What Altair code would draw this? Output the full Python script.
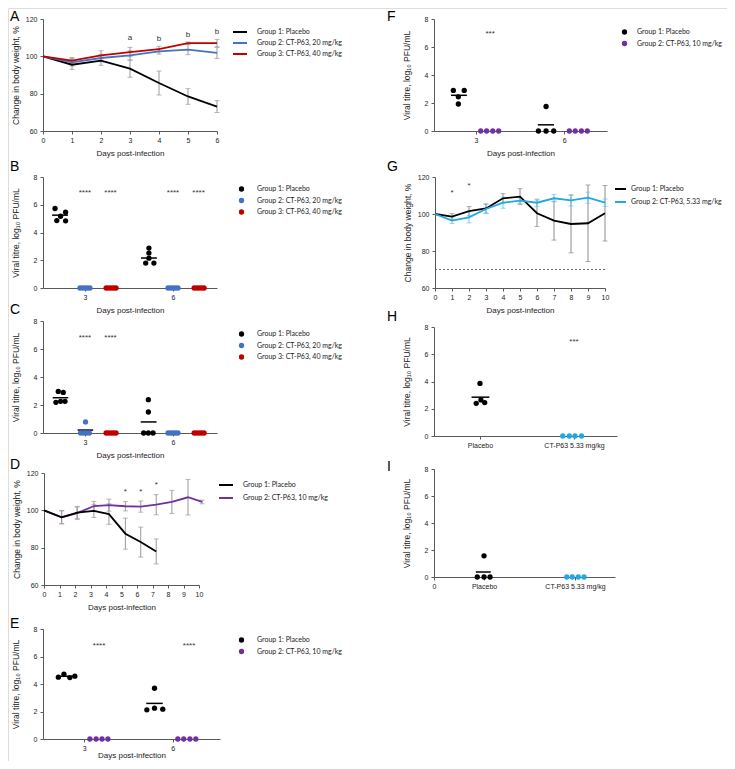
import altair as alt
import pandas as pd

FONT = "Liberation Sans"
LFONT = "Lato"
AX = "#595959"
TXT = "#222222"
W, H = 719, 753

BLACK, BLUE, RED, PURPLE, CYAN = "#000000", "#4472C4", "#C00000", "#7030A0", "#22A7E0"
GREY_ERR, CYAN_ERR = "#999999", "#6cc6ec"

# ---------------- data ----------------
# A: body weight, 3 groups
A_names = ["Group 1: Placebo", "Group 2: CT-P63, 20 mg/kg", "Group 3: CT-P63, 40 mg/kg"]
A_days = [0, 1, 2, 3, 4, 5, 6]
A_g1 = [100, 95.5, 97.7, 93.4, 85.7, 78.5, 73.1]
A_g1_err = [0, 2.5, 2.5, 4.6, 6.4, 4.2, 3.2]
A_g2 = [100, 96.8, 99.1, 100.5, 102.7, 103.6, 101.8]
A_g2_err = [0, 2.0, 2.0, 2.5, 1.5, 2.7, 3.0]
A_g3 = [100, 97.7, 100.5, 102.3, 103.9, 107.1, 107.1]
A_g3_err = [0, 1.7, 2.5, 2.5, 1.5, 0.6, 2.0]
A_sig_x = [3, 4, 5, 6]
A_sig_y = [109.7, 109.3, 111.4, 112.9]
A_sig_t = ["a", "b", "b", "b"]

# B: viral titre, 3 groups
B_day = [3] * 15 + [6] * 15
B_grp = ([0] * 5 + [1] * 5 + [2] * 5) * 2
B_off = [-1.02, -0.96, -0.83, -0.66, -0.66, -0.17, -0.085, 0, 0.085, 0.17, 0.72, 0.805, 0.89, 0.975, 1.06,
         -0.82, -0.82, -0.82, -0.93, -0.65, -0.17, -0.085, 0, 0.085, 0.17, 0.72, 0.805, 0.89, 0.975, 1.06]
B_val = [5.73, 4.86, 5.17, 5.46, 4.84, 0, 0, 0, 0, 0, 0, 0, 0, 0, 0,
         2.88, 2.52, 2.15, 1.80, 1.80, 0, 0, 0, 0, 0, 0, 0, 0, 0, 0]
B_mean_day = [3, 6]
B_mean_x1 = [-1.12, -1.09]
B_mean_x2 = [-0.58, -0.55]
B_mean = [5.25, 2.16]
B_sig_x = [3, 3.87, 6, 6.87]
B_sig_y = [6.85, 6.85, 6.85, 6.85]

# C
C_off = [-0.91, -0.74, -0.99, -0.83, -0.68, 0.02, -0.15, -0.05, 0.05, 0.15, 0.72, 0.805, 0.89, 0.975, 1.06,
         -0.84, -0.84, -1.0, -0.84, -0.68, -0.17, -0.085, 0, 0.085, 0.17, 0.72, 0.805, 0.89, 0.975, 1.06]
C_val = [2.97, 2.90, 2.19, 2.26, 2.26, 0.79, 0, 0, 0, 0, 0, 0, 0, 0, 0,
         2.38, 1.50, 0, 0, 0, 0, 0, 0, 0, 0, 0, 0, 0, 0, 0]
C_mean_day = [3, 3, 6]
C_mean_x1 = [-1.1, -0.25, -1.1]
C_mean_x2 = [-0.57, 0.28, -0.56]
C_mean = [2.52, 0.21, 0.79]
C_sig_x = [3, 3.87]
C_sig_y = [6.8, 6.8]

# D: body weight, 10 mg/kg
D_names = ["Group 1: Placebo", "Group 2: CT-P63, 10 mg/kg"]
D_x_pl = [0, 1.14, 2.14, 3.22, 4.19, 5.25, 6.24, 7.24]
D_pl = [100, 96.3, 98.8, 99.7, 98.0, 87.5, 83.0, 78.0]
D_pl_err = [0, 3.5, 3.3, 3.5, 5.5, 8.3, 8.0, 6.7]
D_x_ct = [0, 1.14, 2.14, 3.22, 4.19, 5.25, 6.24, 7.24, 8.25, 9.29, 10.2]
D_ct = [100, 96.3, 98.5, 102.3, 102.8, 102.2, 102.0, 103.0, 104.5, 107.0, 104.5]
D_ct_err = [0, 3.5, 3.3, 2.5, 3.2, 2.5, 3.0, 5.4, 6.2, 9.5, 1.0]
D_sig_x = [5.25, 6.24, 7.24]
D_sig_y = [110.0, 110.0, 113.5]

# E: viral titre, 10 mg/kg
E_names = ["Group 1: Placebo", "Group 2: CT-P63, 10 mg/kg"]
E_day = [3] * 8 + [6] * 8
E_grp = ([0] * 4 + [1] * 4) * 2
E_off = [-0.88, -0.69, -0.49, -0.32, 0.19, 0.40, 0.60, 0.80,
         -0.88, -0.62, -0.62, -0.34, 0.17, 0.37, 0.58, 0.78]
E_val = [4.50, 4.71, 4.47, 4.57, 0, 0, 0, 0,
         2.12, 3.69, 2.24, 2.17, 0, 0, 0, 0]
E_mean_day = [3, 6]
E_mean_x1 = [-0.9, -0.9]
E_mean_x2 = [-0.3, -0.34]
E_mean = [4.56, 2.59]
E_sig_x = [3.5, 6.55]
E_sig_y = [6.8, 6.8]

# F
F_off = [-0.77, -0.40, -0.60, -0.60, 0.16, 0.36, 0.57, 0.77,
         -0.62, -0.88, -0.62, -0.36, 0.17, 0.37, 0.58, 0.78]
F_val = [2.90, 2.90, 2.44, 1.93, 0, 0, 0, 0,
         1.75, 0, 0, 0, 0, 0, 0, 0]
F_mean_day = [3, 6]
F_mean_x1 = [-0.85, -0.9]
F_mean_x2 = [-0.31, -0.35]
F_mean = [2.55, 0.44]
F_sig_x = [3.48]
F_sig_y = [6.9]

# G: body weight, 5.33 mg/kg
G_names = ["Group 1: Placebo", "Group 2: CT-P63, 5.33 mg/kg"]
G_days = list(range(11))
G_pl = [100, 98.6, 101.5, 103.0, 108.5, 109.4, 100.4, 96.4, 94.6, 95.0, 100.4]
G_pl_err = [0, 1.6, 2.5, 2.5, 2.5, 4.3, 7.2, 10.5, 15.6, 20.7, 15.0]
G_ct = [100, 96.4, 98.2, 102.7, 106.1, 107.2, 106.1, 108.5, 107.4, 108.8, 106.1]
G_ct_err = [0, 1.5, 3.0, 2.5, 3.0, 1.5, 2.0, 2.0, 3.0, 3.0, 2.0]
G_sig_x = [1, 2]
G_sig_y = [111.5, 115.2]
G_ref = 70

# H, I: viral titre by treatment
HI_names = ["Placebo", "CT-P63 5.33 mg/kg"]
H_pos = [1, 1, 1, 1, 2, 2, 2, 2]
H_grp = [0, 0, 0, 0, 1, 1, 1, 1]
H_off = [0, -0.04, 0.01, 0.05, -0.12, -0.05, 0.01, 0.08]
H_val = [3.86, 2.40, 2.65, 2.45, 0, 0, 0, 0]
H_mean = [2.85]
H_sig = [2]
I_off = [0, -0.074, 0, 0.066, -0.09, -0.03, 0.036, 0.10]
I_val = [1.57, 0, 0, 0, 0, 0, 0, 0]
I_mean = [0.37]

LETTERS = ["A", "B", "C", "D", "E", "F", "G", "H", "I"]
LET_X = [2, 2, 2, 2, 2, 379, 379, 379, 379]
LET_Y = [2, 152, 295, 450, 609, 2, 152, 302, 452]

# ---------------- geometry (plot area of each panel inside the canvas) ----------------
GEO = {
    "A": dict(xr=[35, 209], xd=[0, 6], yr=[123, 11], yd=[60, 120]),
    "B": dict(xr=[35, 209], xd=[1.57, 7.5], yr=[280, 169], yd=[0, 8]),
    "C": dict(xr=[35, 209], xd=[1.57, 7.5], yr=[425, 313], yd=[0, 8]),
    "D": dict(xr=[36, 191], xd=[0, 10], yr=[577, 465], yd=[60, 120]),
    "E": dict(xr=[35, 212], xd=[1.6, 7.6], yr=[731, 621], yd=[0, 8]),
    "F": dict(xr=[426, 599], xd=[1.573, 7.45], yr=[123, 11], yd=[0, 8]),
    "G": dict(xr=[427, 597], xd=[0, 10], yr=[280, 169], yd=[60, 120]),
    "H": dict(xr=[426, 609], xd=[0.511, 2.457], yr=[428, 319], yd=[0, 8]),
    "I": dict(xr=[426, 607], xd=[0.45, 2.44], yr=[569, 461], yd=[0, 8]),
}

BW_TITLE = "Change in body weight, %"
VT_TITLE = "Viral titre, log\u2081\u2080 PFU/mL"


def scales(g):
    xs = alt.Scale(domain=g["xd"], range=g["xr"], nice=False, zero=False)
    ys = alt.Scale(domain=g["yd"], range=g["yr"], nice=False, zero=False)
    return xs, ys


def xaxis(g, vals, title="Days post-infection", expr=None, ext=12, tpad=6):
    kw = dict(orient="bottom", offset=g["yr"][0] - H, values=vals, title=title, grid=False,
              labelFlush=False, labelOverlap=False, tickSize=3, labelPadding=2,
              labelFont=FONT, labelFontSize=7, labelColor=TXT,
              titleFont=FONT, titleFontSize=8, titleFontWeight="normal", titleColor=TXT,
              titlePadding=tpad, minExtent=ext, maxExtent=ext, domainColor=AX, tickColor=AX)
    if expr:
        kw["labelExpr"] = expr
    return alt.Axis(**kw)


def yaxis(g, vals, title):
    return alt.Axis(orient="left", offset=-g["xr"][0], values=vals, title=title, grid=False,
                    labelFlush=False, labelOverlap=False, tickSize=3, labelPadding=3,
                    labelFont=FONT, labelFontSize=7, labelColor=TXT,
                    titleFont=FONT, titleFontSize=8.5, titleFontWeight="normal", titleColor=TXT,
                    titlePadding=5, minExtent=18, maxExtent=18, domainColor=AX, tickColor=AX)


def line_legend(lx, ly, rowpad=1, loff=9, ssize=196):
    return alt.Legend(orient="none", legendX=lx, legendY=ly, title=None, direction="vertical",
                      symbolType="stroke", symbolSize=ssize, symbolStrokeWidth=2,
                      labelFont=LFONT, labelFontSize=7, labelColor=TXT, labelOffset=loff,
                      rowPadding=rowpad, clipHeight=10, padding=0)


def dot_legend(lx, ly, rowpad=1.5, loff=12):
    return alt.Legend(orient="none", legendX=lx, legendY=ly, title=None, direction="vertical",
                      symbolType="circle", symbolSize=28, symbolStrokeWidth=0,
                      labelFont=LFONT, labelFontSize=7, labelColor=TXT, labelOffset=loff,
                      rowPadding=rowpad, clipHeight=10, padding=0)


def line_panel(key, names, colors, series, errcols, draw_order, legend, sig_x, sig_y, sig_t=None, xvals=None,
               ref=None):
    g = GEO[key]
    xs, ys = scales(g)
    xa = xaxis(g, xvals)
    ya = yaxis(g, [60, 80, 100, 120], BW_TITLE)
    rows = []
    for name, (xl, vals, errs) in zip(names, series):
        for xi, v, e in zip(xl, vals, errs):
            rows.append(dict(x=xi, y=v, lo=v - e, hi=v + e, e=e, group=name))
    df = pd.DataFrame(rows)
    color = alt.Color("group:N", scale=alt.Scale(domain=names, range=colors), legend=legend)
    X = alt.X("x:Q", scale=xs, axis=xa)
    layers = []
    if ref is not None:
        rdf = pd.DataFrame({"x": [g["xd"][0]], "x2": [g["xd"][1]], "y": [ref]})
        layers.append(alt.Chart(rdf).mark_rule(color="#444444", strokeWidth=0.8, strokeDash=[2, 2]).encode(
            x=X, x2="x2:Q", y=alt.Y("y:Q", scale=ys, axis=ya)))
    for name, ec in zip(names, errcols):
        d = df[(df.group == name) & (df.e > 0)]
        layers.append(alt.Chart(d).mark_errorbar(color=ec, thickness=1, ticks={"size": 5}).encode(
            x=X, y=alt.Y("lo:Q", scale=ys, axis=ya), y2="hi:Q"))
    for name in draw_order:
        d = df[df.group == name]
        layers.append(alt.Chart(d).mark_line(strokeWidth=1.8).encode(
            x=X, y=alt.Y("y:Q", scale=ys, axis=ya), color=color))
    sdf = pd.DataFrame({"x": sig_x, "y": sig_y, "t": sig_t if sig_t else ["*"] * len(sig_x)})
    layers.append(alt.Chart(sdf).mark_text(font=FONT, fontSize=8, fill="#333333").encode(
        x=X, y=alt.Y("y:Q", scale=ys, axis=ya), text="t:N"))
    return alt.layer(*layers)


def dot_panel(key, names, colors, pos, grp, off, val, mean_pos, mx1, mx2, mval, sig_x, sig_y, stars, legend,
              xvals, xtitle="Days post-infection", expr=None, ext=12, tpad=6):
    g = GEO[key]
    xs, ys = scales(g)
    xa = xaxis(g, xvals, xtitle, expr, ext, tpad)
    ya = yaxis(g, [0, 2, 4, 6, 8], VT_TITLE)
    X = alt.X("x:Q", scale=xs, axis=xa)
    Y = alt.Y("y:Q", scale=ys, axis=ya)
    df = pd.DataFrame({"x": [p + o for p, o in zip(pos, off)], "y": val, "group": [names[i] for i in grp]})
    mdf = pd.DataFrame({"x": [p + a for p, a in zip(mean_pos, mx1)], "x2": [p + b for p, b in zip(mean_pos, mx2)],
                        "y": mval})
    sdf = pd.DataFrame({"x": sig_x, "y": sig_y, "t": [stars] * len(sig_x)})
    color = alt.Color("group:N", scale=alt.Scale(domain=names, range=colors), legend=legend)
    layers = [
        alt.Chart(mdf).mark_rule(color="black", strokeWidth=1.5).encode(x=X, x2="x2:Q", y=Y),
        alt.Chart(df).mark_circle(size=28, opacity=1).encode(x=X, y=Y, color=color),
        alt.Chart(sdf).mark_text(font=FONT, fontSize=8, fill="#333333").encode(x=X, y=Y, text="t:N"),
    ]
    return alt.layer(*layers)


# ---------------- panels ----------------
pA = line_panel("A", A_names, [BLACK, BLUE, RED],
                [(A_days, A_g1, A_g1_err), (A_days, A_g2, A_g2_err), (A_days, A_g3, A_g3_err)],
                [GREY_ERR, GREY_ERR, GREY_ERR], A_names, line_legend(224, 19), A_sig_x, A_sig_y, A_sig_t,
                xvals=A_days)

pB = dot_panel("B", A_names, [BLACK, BLUE, RED], B_day, B_grp, B_off, B_val,
               B_mean_day, B_mean_x1, B_mean_x2, B_mean, B_sig_x, B_sig_y, "****",
               dot_legend(230, 176), [3, 6])

pC = dot_panel("C", A_names, [BLACK, BLUE, RED], B_day, B_grp, C_off, C_val,
               C_mean_day, C_mean_x1, C_mean_x2, C_mean, C_sig_x, C_sig_y, "****",
               dot_legend(230, 321), [3, 6])

pD = line_panel("D", D_names, [BLACK, PURPLE],
                [(D_x_pl, D_pl, D_pl_err), (D_x_ct, D_ct, D_ct_err)],
                [GREY_ERR, GREY_ERR], [D_names[1], D_names[0]], line_legend(210, 472, 3), D_sig_x, D_sig_y,
                xvals=list(range(11)))

pE = dot_panel("E", E_names, [BLACK, PURPLE], E_day, E_grp, E_off, E_val,
               E_mean_day, E_mean_x1, E_mean_x2, E_mean, E_sig_x, E_sig_y, "****",
               dot_legend(230, 627), [3, 6], ext=10, tpad=2)

pF = dot_panel("F", E_names, [BLACK, PURPLE], E_day, E_grp, F_off, F_val,
               F_mean_day, F_mean_x1, F_mean_x2, F_mean, F_sig_x, F_sig_y, "***",
               dot_legend(613, 19, 1.5, 9), [3, 6])

pG = line_panel("G", G_names, [BLACK, CYAN],
                [(G_days, G_pl, G_pl_err), (G_days, G_ct, G_ct_err)],
                ["#8c8c8c", CYAN_ERR], G_names, line_legend(606, 176, 3, 4, 121), G_sig_x, G_sig_y,
                xvals=G_days, ref=G_ref)

pH = dot_panel("H", HI_names, [BLACK, CYAN], H_pos, H_grp, H_off, H_val,
               [1], [-0.09], [0.1], H_mean, H_sig, [6.9], "***", None, [1, 2], None,
               "datum.value == 1 ? 'Placebo' : 'CT-P63 5.33 mg/kg'")

pI = dot_panel("I", HI_names, [BLACK, CYAN], H_pos, H_grp, I_off, I_val,
               [1], [-0.09], [0.074], I_mean, [], [], "", None, [0.45, 1, 2], None,
               "datum.value < 0.9 ? '0' : (datum.value == 1 ? 'Placebo' : 'CT-P63 5.33 mg/kg')")

ldf = pd.DataFrame({"px": LET_X, "py": LET_Y, "t": LETTERS})
letters = alt.Chart(ldf).mark_text(font=FONT, fontSize=14, align="left", baseline="top", color="black").encode(
    x=alt.X("px:Q", scale=None, axis=None), y=alt.Y("py:Q", scale=None, axis=None), text="t:N")

chart = alt.layer(pA, pB, pC, pD, pE, pF, pG, pH, pI, letters).resolve_scale(
    x="independent", y="independent", color="independent"
).properties(
    width=W, height=H, autosize=alt.AutoSizeParams(type="none"), padding=0
).configure_view(stroke=None).configure(background="white")

chart.save("out.html", embed_options={"renderer": "svg", "actions": False})
